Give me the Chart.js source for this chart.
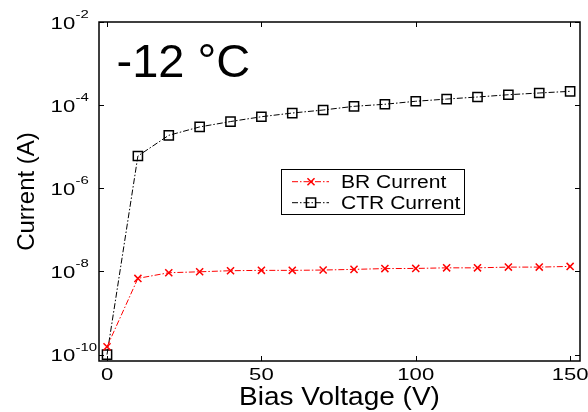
<!DOCTYPE html>
<html>
<head>
<meta charset="utf-8">
<script src="https://cdn.jsdelivr.net/npm/chart.js@4"></script>
<style>
  body { margin: 0; background: #fff; }
  #wrap { width: 588px; height: 412px; position: relative; }
</style>
</head>
<body>
<div id="wrap"><canvas id="chart"></canvas></div>
<script>
// bias voltage (V)
const voltages = [0, 10, 20, 30, 40, 50, 60, 70, 80, 90, 100, 110, 120, 130, 140, 150];
// currents (A)
const brCurrent  = [1.54e-10, 6.8e-9, 9.3e-9, 9.8e-9, 1.04e-8, 1.06e-8, 1.06e-8, 1.08e-8, 1.12e-8, 1.17e-8, 1.18e-8, 1.22e-8, 1.22e-8, 1.27e-8, 1.27e-8, 1.32e-8];
const ctrCurrent = [1.0e-10, 5.97e-6, 1.88e-5, 2.99e-5, 4.03e-5, 5.26e-5, 6.46e-5, 7.63e-5, 9.37e-5, 1.05e-4, 1.24e-4, 1.40e-4, 1.57e-4, 1.78e-4, 1.96e-4, 2.15e-4];
const xTicks = [0, 50, 100, 150];
const yExps  = [-10, -8, -6, -4, -2];
const seriesNames = ['BR Current', 'CTR Current'];
const titleText = '-12 °C';
const xTitle = 'Bias Voltage (V)';
const yTitle = 'Current (A)';

const FONT = '"Liberation Sans", Arial, sans-serif';

function stretchText(ctx, txt, x, y, size, sx, align) {
  ctx.save();
  ctx.font = size + 'px ' + FONT;
  ctx.textAlign = align || 'left';
  ctx.textBaseline = 'alphabetic';
  ctx.translate(x, y);
  ctx.scale(sx, 1);
  ctx.fillText(txt, 0, 0);
  ctx.restore();
}

const decor = {
  id: 'decor',
  afterDraw(chart) {
    const { ctx, chartArea: a, scales: { x, y } } = chart;
    ctx.save();
    ctx.fillStyle = '#000';
    ctx.strokeStyle = '#000';

    // box
    ctx.lineWidth = 1.5;
    ctx.strokeRect(a.left, a.top, a.right - a.left, a.bottom - a.top);

    // inward ticks
    ctx.lineWidth = 1;
    ctx.beginPath();
    xTicks.forEach(v => {
      const px = Math.round(x.getPixelForValue(v)) + 0.5;
      ctx.moveTo(px, a.bottom); ctx.lineTo(px, a.bottom - 5);
      ctx.moveTo(px, a.top); ctx.lineTo(px, a.top + 5);
    });
    yExps.forEach(e => {
      const py = Math.round(y.getPixelForValue(Math.pow(10, e))) + 0.5;
      ctx.moveTo(a.left, py); ctx.lineTo(a.left + 5, py);
      ctx.moveTo(a.right, py); ctx.lineTo(a.right - 5, py);
    });
    ctx.stroke();

    // x tick labels
    xTicks.forEach(v => {
      stretchText(ctx, String(v), x.getPixelForValue(v), a.bottom + 19, 17, 1.3, 'center');
    });
    // y tick labels 10^e
    yExps.forEach(e => {
      const py = y.getPixelForValue(Math.pow(10, e));
      stretchText(ctx, '10', 50.6, py + 6.8, 17, 1.3, 'left');
      stretchText(ctx, String(e), 75.5, py - 4, 11.5, 1.3, 'left');
    });

    // axis titles
    stretchText(ctx, xTitle, (a.left + a.right) / 2, 405, 25, 1.12, 'center');
    ctx.save();
    ctx.font = '24px ' + FONT;
    ctx.textAlign = 'center';
    ctx.textBaseline = 'alphabetic';
    ctx.translate(33.5, (a.top + a.bottom) / 2);
    ctx.rotate(-Math.PI / 2);
    ctx.fillText(yTitle, 0, 0);
    ctx.restore();

    // big label
    ctx.font = '47px ' + FONT;
    ctx.textAlign = 'left';
    ctx.fillText(titleText, 116.5, 77);

    // legend
    const lx = 281, ly = 169, lw = 183, lh = 45;
    ctx.fillStyle = '#fff';
    ctx.fillRect(lx, ly, lw, lh);
    ctx.lineWidth = 1;
    ctx.strokeRect(lx + 0.5, ly + 0.5, lw, lh);
    const rows = [181.7, 202.7];
    chart.data.datasets.forEach((ds, i) => {
      const ry = rows[i];
      ctx.save();
      ctx.strokeStyle = ds.borderColor;
      ctx.lineWidth = 1;
      ctx.setLineDash(ds.borderDash);
      ctx.beginPath();
      ctx.moveTo(292, ry); ctx.lineTo(329, ry);
      ctx.stroke();
      ctx.setLineDash([]);
      ctx.lineWidth = ds.pointBorderWidth;
      ctx.strokeStyle = ds.pointBorderColor;
      ctx.beginPath();
      if (ds.pointStyle === 'rect') {
        const s = ds.pointRadius * Math.SQRT1_2;
        ctx.rect(311 - s, ry - s, 2 * s, 2 * s);
      } else {
        const s = ds.pointRadius * Math.SQRT1_2;
        ctx.moveTo(311 - s, ry - s); ctx.lineTo(311 + s, ry + s);
        ctx.moveTo(311 - s, ry + s); ctx.lineTo(311 + s, ry - s);
      }
      ctx.stroke();
      ctx.restore();
      ctx.fillStyle = '#000';
      stretchText(ctx, ds.label, 341, ry + 6.5, 18, 1.17, 'left');
    });
    ctx.restore();
  }
};

new Chart(document.getElementById('chart'), {
  type: 'line',
  data: {
    datasets: [
      {
        label: seriesNames[0],
        data: voltages.map((v, i) => ({ x: v, y: brCurrent[i] })),
        borderColor: '#ff0000',
        borderWidth: 1,
        borderDash: [6, 2, 1.5, 2],
        pointStyle: 'crossRot',
        pointRadius: 5,
        pointBorderWidth: 1.5,
        pointBorderColor: '#ff0000',
        pointBackgroundColor: 'rgba(0,0,0,0)',
        tension: 0
      },
      {
        label: seriesNames[1],
        data: voltages.map((v, i) => ({ x: v, y: ctrCurrent[i] })),
        borderColor: '#000000',
        borderWidth: 1,
        borderDash: [6, 2, 1.5, 2],
        pointStyle: 'rect',
        pointRadius: 6.5,
        pointBorderWidth: 1.5,
        pointBorderColor: '#000000',
        pointBackgroundColor: 'rgba(0,0,0,0)',
        tension: 0
      }
    ]
  },
  options: {
    responsive: true,
    maintainAspectRatio: false,
    animation: false,
    layout: { padding: { left: 0, right: 4, top: 22, bottom: 0 } },
    plugins: { legend: { display: false }, tooltip: { enabled: false } },
    scales: {
      x: {
        type: 'linear',
        min: -2.6,
        max: 153.2,
        grid: { display: false },
        border: { display: false },
        ticks: { display: false },
        afterFit(s) { s.height = 51; }
      },
      y: {
        type: 'logarithmic',
        min: 7e-11,
        max: 1e-2,
        grid: { display: false },
        border: { display: false },
        ticks: { display: false },
        afterFit(s) { s.width = 99; }
      }
    }
  },
  plugins: [decor]
});
</script>
</body>
</html>
